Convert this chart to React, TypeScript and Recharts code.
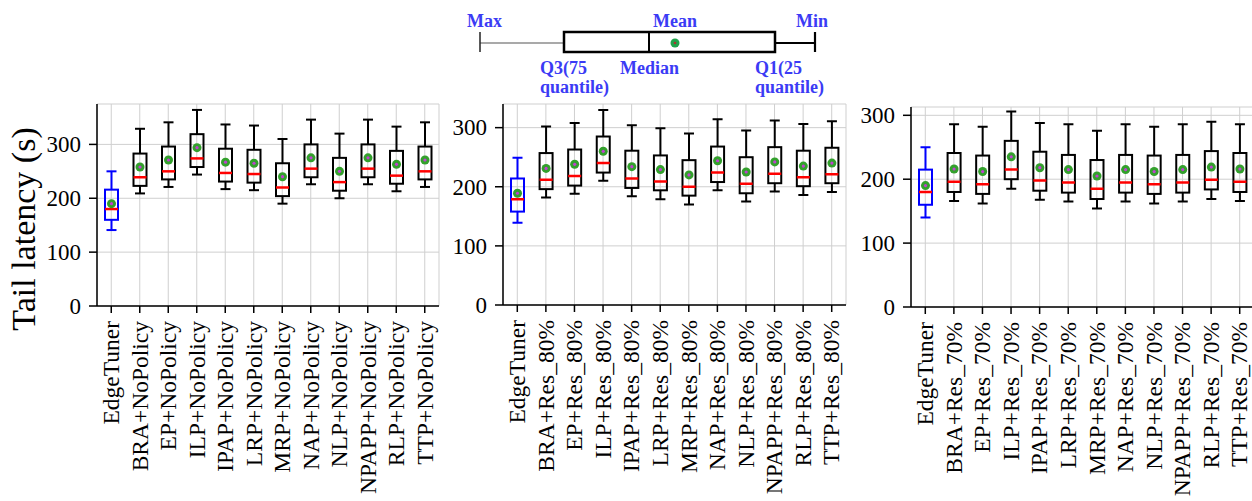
import React from 'react';
import { BarChart, Bar, XAxis, YAxis, CartesianGrid } from 'recharts';

const FONT = '"Liberation Serif", "Times New Roman", serif';

// category names for each panel
const namesNoPolicy = [
  'EdgeTuner', 'BRA+NoPolicy', 'EP+NoPolicy', 'ILP+NoPolicy', 'IPAP+NoPolicy', 'LRP+NoPolicy',
  'MRP+NoPolicy', 'NAP+NoPolicy', 'NLP+NoPolicy', 'NPAPP+NoPolicy', 'RLP+NoPolicy', 'TTP+NoPolicy',
];
const names80 = [
  'EdgeTuner', 'BRA+Res_80%', 'EP+Res_80%', 'ILP+Res_80%', 'IPAP+Res_80%', 'LRP+Res_80%',
  'MRP+Res_80%', 'NAP+Res_80%', 'NLP+Res_80%', 'NPAPP+Res_80%', 'RLP+Res_80%', 'TTP+Res_80%',
];
const names70 = [
  'EdgeTuner', 'BRA+Res_70%', 'EP+Res_70%', 'ILP+Res_70%', 'IPAP+Res_70%', 'LRP+Res_70%',
  'MRP+Res_70%', 'NAP+Res_70%', 'NLP+Res_70%', 'NPAPP+Res_70%', 'RLP+Res_70%', 'TTP+Res_70%',
];

// panel 1: NoPolicy
const npMin = [141, 209, 221, 244, 217, 215, 190, 226, 200, 226, 213, 221];
const npQ1 = [160, 223, 235, 258, 231, 229, 204, 239, 214, 239, 227, 235];
const npMedian = [180, 239, 250, 274, 247, 245, 220, 255, 230, 255, 242, 250];
const npQ3 = [216, 283, 296, 319, 292, 290, 265, 300, 275, 300, 288, 296];
const npMax = [250, 329, 341, 364, 337, 335, 310, 346, 320, 346, 333, 341];
const npMean = [190, 258, 271, 294, 267, 265, 240, 275, 250, 275, 263, 271];

// panel 2: Res 80%
const r80Min = [139, 182, 188, 210, 184, 179, 170, 194, 175, 192, 186, 191];
const r80Q1 = [158, 196, 202, 224, 198, 194, 185, 208, 189, 206, 201, 206];
const r80Median = [179, 212, 218, 240, 214, 209, 200, 224, 205, 222, 216, 221];
const r80Q3 = [214, 257, 263, 285, 261, 253, 245, 268, 250, 267, 261, 266];
const r80Max = [249, 302, 308, 330, 304, 299, 290, 314, 295, 312, 306, 311];
const r80Mean = [189, 231, 238, 260, 234, 229, 220, 244, 225, 242, 235, 240];

// panel 3: Res 70%
const r70Min = [140, 166, 162, 185, 168, 165, 154, 165, 162, 165, 169, 166];
const r70Q1 = [160, 180, 177, 200, 182, 179, 169, 179, 177, 179, 184, 180];
const r70Median = [180, 196, 192, 215, 198, 195, 185, 195, 192, 195, 199, 196];
const r70Q3 = [215, 241, 237, 260, 243, 238, 230, 238, 237, 238, 244, 241];
const r70Max = [250, 286, 282, 306, 288, 286, 276, 286, 282, 286, 290, 286];
const r70Mean = [190, 216, 212, 235, 218, 215, 205, 215, 212, 215, 219, 216];

const yTicks = [0, 100, 200, 300];

const buildRows = (
  names: string[], mins: number[], q1s: number[], medians: number[],
  q3s: number[], maxs: number[], means: number[],
) =>
  names.map((name, i) => ({
    name,
    range: [mins[i], maxs[i]],
    min: mins[i],
    q1: q1s[i],
    median: medians[i],
    q3: q3s[i],
    max: maxs[i],
    mean: means[i],
  }));

const rowsNoPolicy = buildRows(namesNoPolicy, npMin, npQ1, npMedian, npQ3, npMax, npMean);
const rows80 = buildRows(names80, r80Min, r80Q1, r80Median, r80Q3, r80Max, r80Mean);
const rows70 = buildRows(names70, r70Min, r70Q1, r70Median, r70Q3, r70Max, r70Mean);

// draws one box from the range bar's geometry (min..max mapped by the y scale)
const BoxShape = (props: any) => {
  const { x, y, width, height, payload } = props;
  if (!payload) return null;
  const { min, q1, median, q3, max, mean, name } = payload;
  const h = Math.abs(height);
  const top = Math.min(y, y + height);
  const k = h / (max - min);
  const py = (v: number) => top + (max - v) * k;
  const cx = x + width / 2;
  const cap = 5;
  const c = name === 'EdgeTuner' ? '#0000ff' : '#000000';
  return (
    <g>
      <line x1={cx} x2={cx} y1={py(max)} y2={py(q3)} stroke={c} strokeWidth={2} />
      <line x1={cx} x2={cx} y1={py(q1)} y2={py(min)} stroke={c} strokeWidth={2} />
      <line x1={cx - cap} x2={cx + cap} y1={py(max)} y2={py(max)} stroke={c} strokeWidth={2} />
      <line x1={cx - cap} x2={cx + cap} y1={py(min)} y2={py(min)} stroke={c} strokeWidth={2} />
      <rect x={x} y={py(q3)} width={width} height={py(q1) - py(q3)} fill="none" stroke={c} strokeWidth={2} />
      <line x1={x} x2={x + width} y1={py(median)} y2={py(median)} stroke="#ff0000" strokeWidth={2.5} />
      <circle cx={cx} cy={py(mean)} r={4.5} fill="#33a02c" />
      <circle cx={cx} cy={py(mean)} r={1.6} fill="#c040d0" />
    </g>
  );
};

const RotTick = (props: any) => {
  const { x, y, payload } = props;
  return (
    <g transform={`translate(${x},${y})`}>
      <text
        transform="rotate(-90)"
        textAnchor="end"
        dy="0.33em"
        fontSize={23.5}
        fontFamily={FONT}
        fill="#000"
      >
        {payload.value}
      </text>
    </g>
  );
};

const YTick = (props: any) => {
  const { x, y, payload } = props;
  return (
    <text x={x} y={y} dy="0.34em" textAnchor="end" fontSize={23} fontFamily={FONT} fill="#000">
      {payload.value}
    </text>
  );
};

interface PanelProps {
  rows: any[];
  left: number;
  width: number;
  top: number;
  bottom: number;
  ml: number;
  mr: number;
  yw: number;
  domain: [number, number];
}

const Panel: React.FC<PanelProps> = ({ rows, left, width, top, bottom, ml, mr, yw, domain }) => (
  <div style={{ position: 'absolute', left, top: 0 }}>
    <BarChart width={width} height={501} data={rows} margin={{ top, right: mr, left: ml, bottom: 0 }}>
      <CartesianGrid stroke="#cfcfcf" strokeWidth={1} />
      <XAxis
        dataKey="name"
        interval={0}
        height={501 - bottom}
        tick={<RotTick />}
        tickSize={7}
        tickMargin={8}
        axisLine={{ stroke: '#000', strokeWidth: 1.5 }}
        tickLine={{ stroke: '#000', strokeWidth: 1.5 }}
      />
      <XAxis
        xAxisId="top"
        orientation="top"
        dataKey="name"
        height={0}
        tick={false}
        tickLine={false}
        axisLine={{ stroke: '#333', strokeWidth: 1.5 }}
      />
      <YAxis
        domain={domain}
        ticks={yTicks}
        width={yw}
        tickSize={8}
        tickMargin={8}
        allowDataOverflow
        tick={<YTick />}
        axisLine={{ stroke: '#000', strokeWidth: 1.5 }}
        tickLine={{ stroke: '#000', strokeWidth: 1.5 }}
      />
      <YAxis
        yAxisId="right"
        orientation="right"
        width={0}
        tick={false}
        tickLine={false}
        axisLine={{ stroke: '#333', strokeWidth: 1.5 }}
      />
      <Bar dataKey="range" barSize={13} shape={<BoxShape />} isAnimationActive={false} />
    </BarChart>
  </div>
);

const BLUE = '#3b3bf5';

const Overlay = () => (
  <svg width={1252} height={501} style={{ position: 'absolute', left: 0, top: 0, pointerEvents: 'none' }}>
    {/* y axis title */}
    <text
      x={35}
      y={229}
      transform="rotate(-90 35 229)"
      textAnchor="middle"
      fontSize={34}
      fontFamily={FONT}
      fill="#000"
    >
      Tail latency (s)
    </text>
    {/* box plot key */}
    <line x1={480} x2={564} y1={43} y2={43} stroke="#555" strokeWidth={1.2} />
    <line x1={480} x2={480} y1={32} y2={52} stroke="#222" strokeWidth={1.5} />
    <rect x={564} y={32} width={211} height={20} fill="none" stroke="#000" strokeWidth={2.5} />
    <line x1={649} x2={649} y1={32} y2={52} stroke="#000" strokeWidth={2} />
    <circle cx={675} cy={43} r={4.5} fill="#1fa24a" />
    <circle cx={675} cy={43} r={1.3} fill="#b03030" />
    <line x1={775} x2={815} y1={43} y2={43} stroke="#000" strokeWidth={2.2} />
    <line x1={815} x2={815} y1={32} y2={52} stroke="#000" strokeWidth={2.2} />
    <g fontFamily={FONT} fontWeight="bold" fontSize={18} fill={BLUE}>
      <text x={467} y={27}>Max</text>
      <text x={653} y={27}>Mean</text>
      <text x={796} y={27}>Min</text>
      <text x={540} y={74}>Q3(75</text>
      <text x={540} y={93}>quantile)</text>
      <text x={620} y={74}>Median</text>
      <text x={755} y={74}>Q1(25</text>
      <text x={755} y={93}>quantile)</text>
    </g>
  </svg>
);

export default function App() {
  return (
    <div
      style={{
        position: 'absolute',
        left: 0,
        top: 0,
        width: 1252,
        height: 501,
        overflow: 'hidden',
        background: '#fff',
        fontFamily: FONT,
      }}
    >
      <Panel rows={rowsNoPolicy} left={0} width={450} top={104} bottom={306} ml={37} mr={11} yw={60} domain={[0, 375]} />
      <Panel rows={rows80} left={450} width={410} top={104} bottom={305} ml={3} mr={14} yw={50} domain={[0, 340]} />
      <Panel rows={rows70} left={860} width={400} top={107} bottom={307} ml={1} mr={6} yw={50} domain={[0, 313]} />
      <Overlay />
    </div>
  );
}
